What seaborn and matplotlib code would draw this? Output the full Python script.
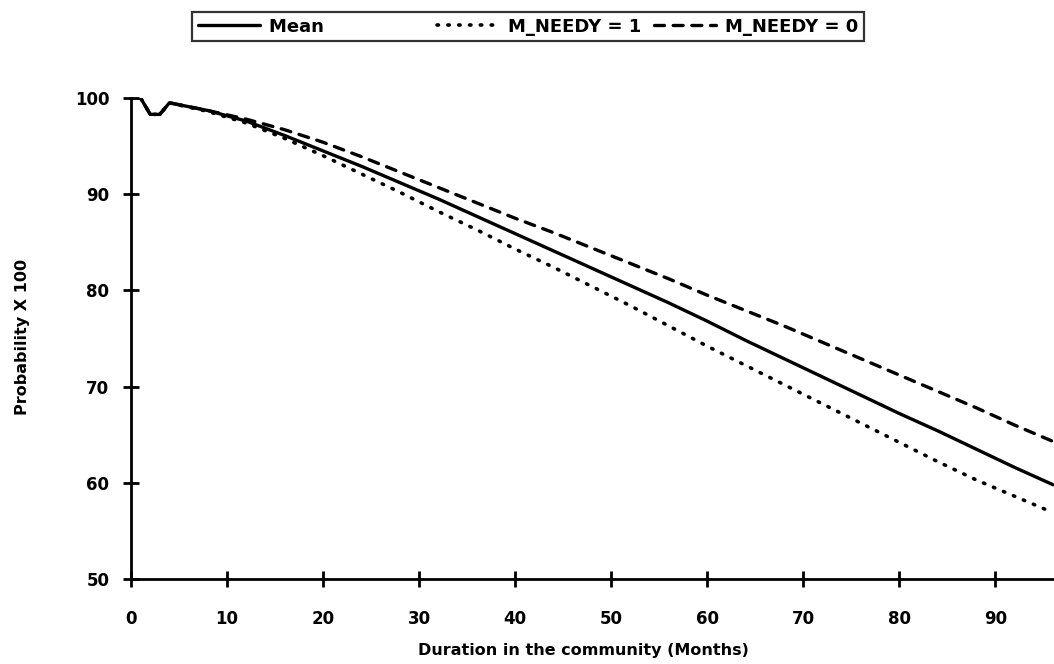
import matplotlib
matplotlib.use("Agg")
import matplotlib.pyplot as plt
import seaborn as sns
import pandas as pd

months = [0, 1, 2, 3, 4, 8, 12, 16, 20, 24, 28, 32, 36, 40, 44, 48, 52, 56, 60,
          64, 68, 72, 76, 80, 84, 88, 92, 96]
mean_vals = [100, 100, 98.3, 98.3, 99.5, 98.7, 97.6, 96.1, 94.5, 92.9, 91.2, 89.5,
             87.7, 85.9, 84.1, 82.3, 80.5, 78.7, 76.8, 74.8, 72.9, 71.0, 69.1,
             67.2, 65.4, 63.5, 61.6, 59.8]
needy1_vals = [100, 100, 98.3, 98.3, 99.5, 98.6, 97.4, 95.8, 94.0, 92.1, 90.2, 88.2,
               86.3, 84.3, 82.4, 80.4, 78.4, 76.3, 74.2, 72.2, 70.2, 68.2, 66.2,
               64.2, 62.2, 60.3, 58.6, 56.9]
needy0_vals = [100, 100, 98.3, 98.3, 99.5, 98.7, 97.8, 96.7, 95.4, 93.9, 92.3, 90.7,
               89.1, 87.5, 86.0, 84.4, 82.8, 81.2, 79.5, 77.9, 76.3, 74.6, 72.9,
               71.2, 69.5, 67.8, 66.0, 64.3]
series_names = ["Mean", "M_NEEDY = 1", "M_NEEDY = 0"]
x_ticks = [0, 10, 20, 30, 40, 50, 60, 70, 80, 90]
y_ticks = [50, 60, 70, 80, 90, 100]

sns.set_style("white")
plt.rcParams['font.family'] = ['DejaVu Sans']
plt.rcParams['font.weight'] = 'bold'
plt.rcParams['text.color'] = 'black'
plt.rcParams['axes.labelcolor'] = 'black'
plt.rcParams['xtick.color'] = 'black'
plt.rcParams['ytick.color'] = 'black'

fig = plt.figure(figsize=(10.54, 6.64), dpi=100)
ax = fig.add_axes([0.1243, 0.128, 0.8757, 0.7244])

df = pd.DataFrame({"x": months, "Mean": mean_vals,
                   "M_NEEDY = 1": needy1_vals, "M_NEEDY = 0": needy0_vals})

styles = {
    "Mean": dict(linestyle="-", linewidth=2.4),
    "M_NEEDY = 1": dict(linestyle=(0, (0.4, 2.6)), linewidth=2.6, dash_capstyle="round"),
    "M_NEEDY = 0": dict(linestyle=(0, (3.0, 2.6)), linewidth=2.4, dash_capstyle="round"),
}
labels = {"Mean": "Mean" + "\u2007" * 8, "M_NEEDY = 1": "M_NEEDY = 1",
          "M_NEEDY = 0": "M_NEEDY = 0"}
for name in series_names:
    sns.lineplot(data=df, x="x", y=name, ax=ax, color="black", label=labels[name],
                 **styles[name])

ax.set_xlim(0, 96.1)
ax.set_ylim(50, 100)
ax.set_xticks(x_ticks)
ax.set_yticks(y_ticks)
ax.tick_params(axis="both", bottom=True, left=True, direction="inout", length=12,
               width=2, labelsize=12, color="black", labelcolor="black")
ax.tick_params(axis="y", pad=9.5)
ax.tick_params(axis="x", pad=16)
for lab in ax.get_xticklabels() + ax.get_yticklabels():
    lab.set_fontweight("bold")
for s in ["top", "right"]:
    ax.spines[s].set_visible(False)
for s in ["left", "bottom"]:
    ax.spines[s].set_linewidth(2)
    ax.spines[s].set_color("black")

ax.set_xlabel("Duration in the community (Months)", fontsize=11.5, fontweight="bold",
              color="black")
ax.set_ylabel("Probability X 100", fontsize=11.5, fontweight="bold", color="black")
ax.xaxis.set_label_coords(583 / 1054, 1 - 650 / 664, transform=fig.transFigure)
ax.yaxis.set_label_coords(23 / 1054, 1 - 337 / 664, transform=fig.transFigure)
ax.xaxis.label.set_verticalalignment("center")
ax.yaxis.label.set_verticalalignment("center")

leg = ax.legend(loc="center", bbox_to_anchor=(0.501, 0.960),
                bbox_transform=fig.transFigure, ncol=3, frameon=True,
                fancybox=False, edgecolor="black", handlelength=3.45,
                columnspacing=0.7, handletextpad=0.5, borderpad=0.3,
                borderaxespad=0, prop={"weight": "bold", "size": 13})
leg.get_frame().set_linewidth(1.6)
for t in leg.get_texts():
    t.set_color("black")

fig.savefig("out.png", dpi=100)
